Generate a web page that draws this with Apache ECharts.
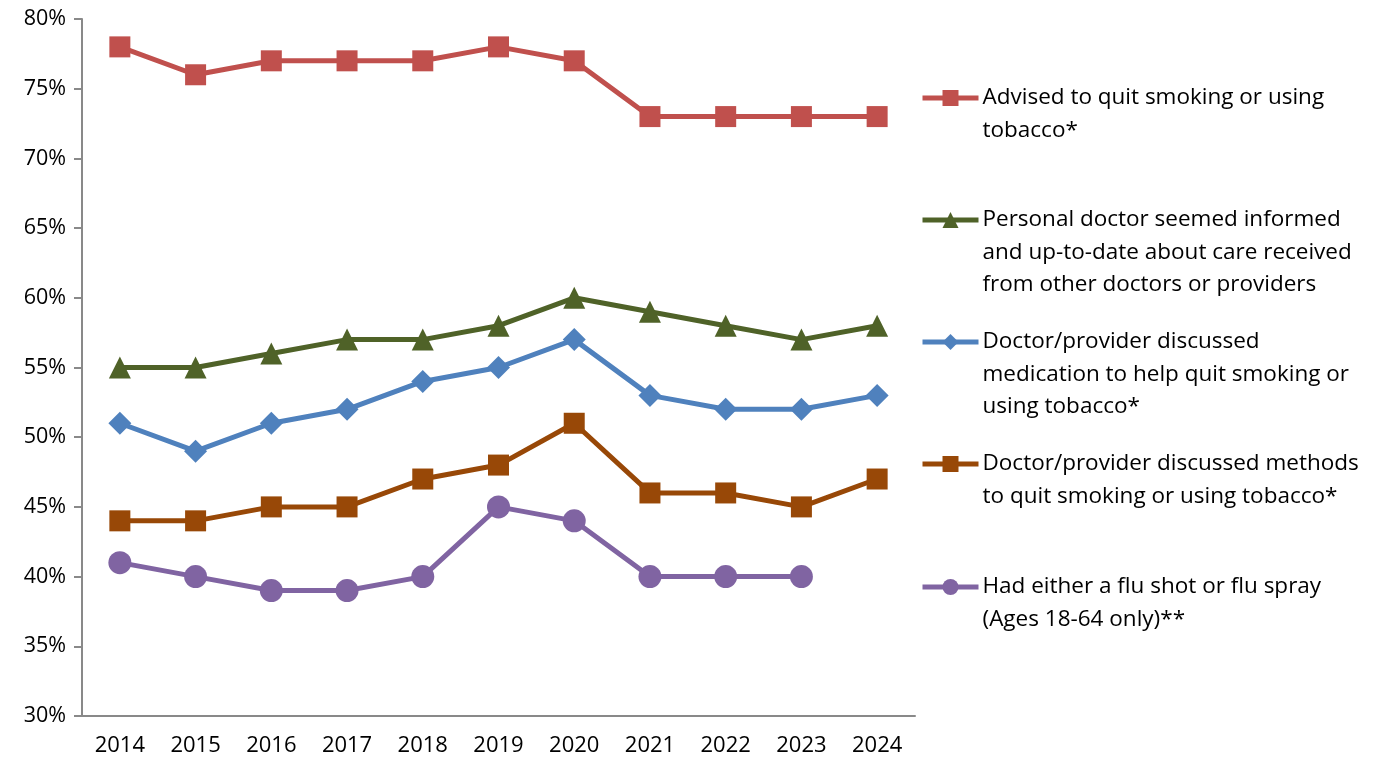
<!DOCTYPE html>
<html>
<head>
<meta charset="utf-8">
<script src="https://cdn.jsdelivr.net/npm/echarts@6/dist/echarts.min.js"></script>
<style>
  html, body { margin: 0; padding: 0; background: #fff; }
  #chart { width: 1385px; height: 763px; }
</style>
</head>
<body>
<div id="chart"></div>
<script>
// Survey years
const years = ['2014','2015','2016','2017','2018','2019','2020','2021','2022','2023','2024'];

// Percent of respondents, by measure
const advisedQuit      = [78, 76, 77, 77, 77, 78, 77, 73, 73, 73, 73];
const doctorInformed   = [55, 55, 56, 57, 57, 58, 60, 59, 58, 57, 58];
const discussedMeds    = [51, 49, 51, 52, 54, 55, 57, 53, 52, 52, 53];
const discussedMethods = [44, 44, 45, 45, 47, 48, 51, 46, 46, 45, 47];
const fluShot          = [41, 40, 39, 39, 40, 45, 44, 40, 40, 40, null];

// Series names (multi-line, as shown in the legend)
const names = [
  'Advised to quit smoking or using\ntobacco*',
  'Personal doctor seemed informed\nand up-to-date about care received\nfrom other doctors or providers',
  'Doctor/provider discussed\nmedication to help quit smoking or\nusing tobacco*',
  'Doctor/provider discussed methods\nto quit smoking or using tobacco*',
  'Had either a flu shot or flu spray\n(Ages 18-64 only)**'
];

const FONT = '"Open Sans", Lato, sans-serif';
const LH = 32.5;
const legendIconY = [98, 220, 342, 464, 587];

const seriesDefs = [
  { data: advisedQuit,      color: '#C0504D', symbol: 'rect',     size: 21 },
  { data: doctorInformed,   color: '#4F6228', symbol: 'triangle', size: 22 },
  { data: discussedMeds,    color: '#4F81BD', symbol: 'diamond',  size: 23 },
  { data: discussedMethods, color: '#984807', symbol: 'rect',     size: 21 },
  { data: fluShot,          color: '#8064A2', symbol: 'circle',   size: 23 }
];

const series = seriesDefs.map((d, i) => ({
  name: names[i],
  type: 'line',
  data: d.data,
  symbol: d.symbol,
  symbolSize: d.size,
  showAllSymbol: true,
  connectNulls: false,
  lineStyle: { color: d.color, width: 5 },
  itemStyle: { color: d.color },
  animation: false
}));

// One legend block per series; leading blank lines keep the icon beside the first text line
const legends = names.map((n, i) => {
  const lines = n.split('\n').length;
  const boxH = (2 * lines - 1) * LH;
  return {
    data: [n],
    left: 920,
    top: legendIconY[i] - boxH / 2,
    orient: 'vertical',
    padding: 0,
    itemWidth: 56,
    itemHeight: 20,
    itemGap: 0,
    selectedMode: false,
    formatter: (name) => '\n'.repeat(lines - 1) + name,
    lineStyle: { width: 5 },
    textStyle: {
      fontFamily: FONT,
      fontSize: 22.5,
      color: '#000',
      lineHeight: LH,
      padding: [0, 0, 0, -1]
    }
  };
});

const chart = echarts.init(document.getElementById('chart'), null, { renderer: 'canvas' });
chart.setOption({
  backgroundColor: '#fff',
  animation: false,
  grid: { left: 82, right: 470, top: 19, bottom: 47, containLabel: false },
  legend: legends,
  xAxis: {
    type: 'category',
    data: years,
    boundaryGap: true,
    axisLine: { lineStyle: { color: '#898989', width: 2 } },
    axisTick: { show: false },
    axisLabel: { fontFamily: FONT, fontSize: 22, color: '#000', margin: 19 }
  },
  yAxis: {
    type: 'value',
    min: 30,
    max: 80,
    interval: 5,
    axisLine: { show: true, lineStyle: { color: '#898989', width: 2 } },
    axisTick: { show: true, length: 8, lineStyle: { color: '#898989', width: 2 } },
    splitLine: { show: false },
    axisLabel: { fontFamily: FONT, fontSize: 21.5, color: '#000', margin: 16, formatter: '{value}%' }
  },
  series: series
});
</script>
</body>
</html>
